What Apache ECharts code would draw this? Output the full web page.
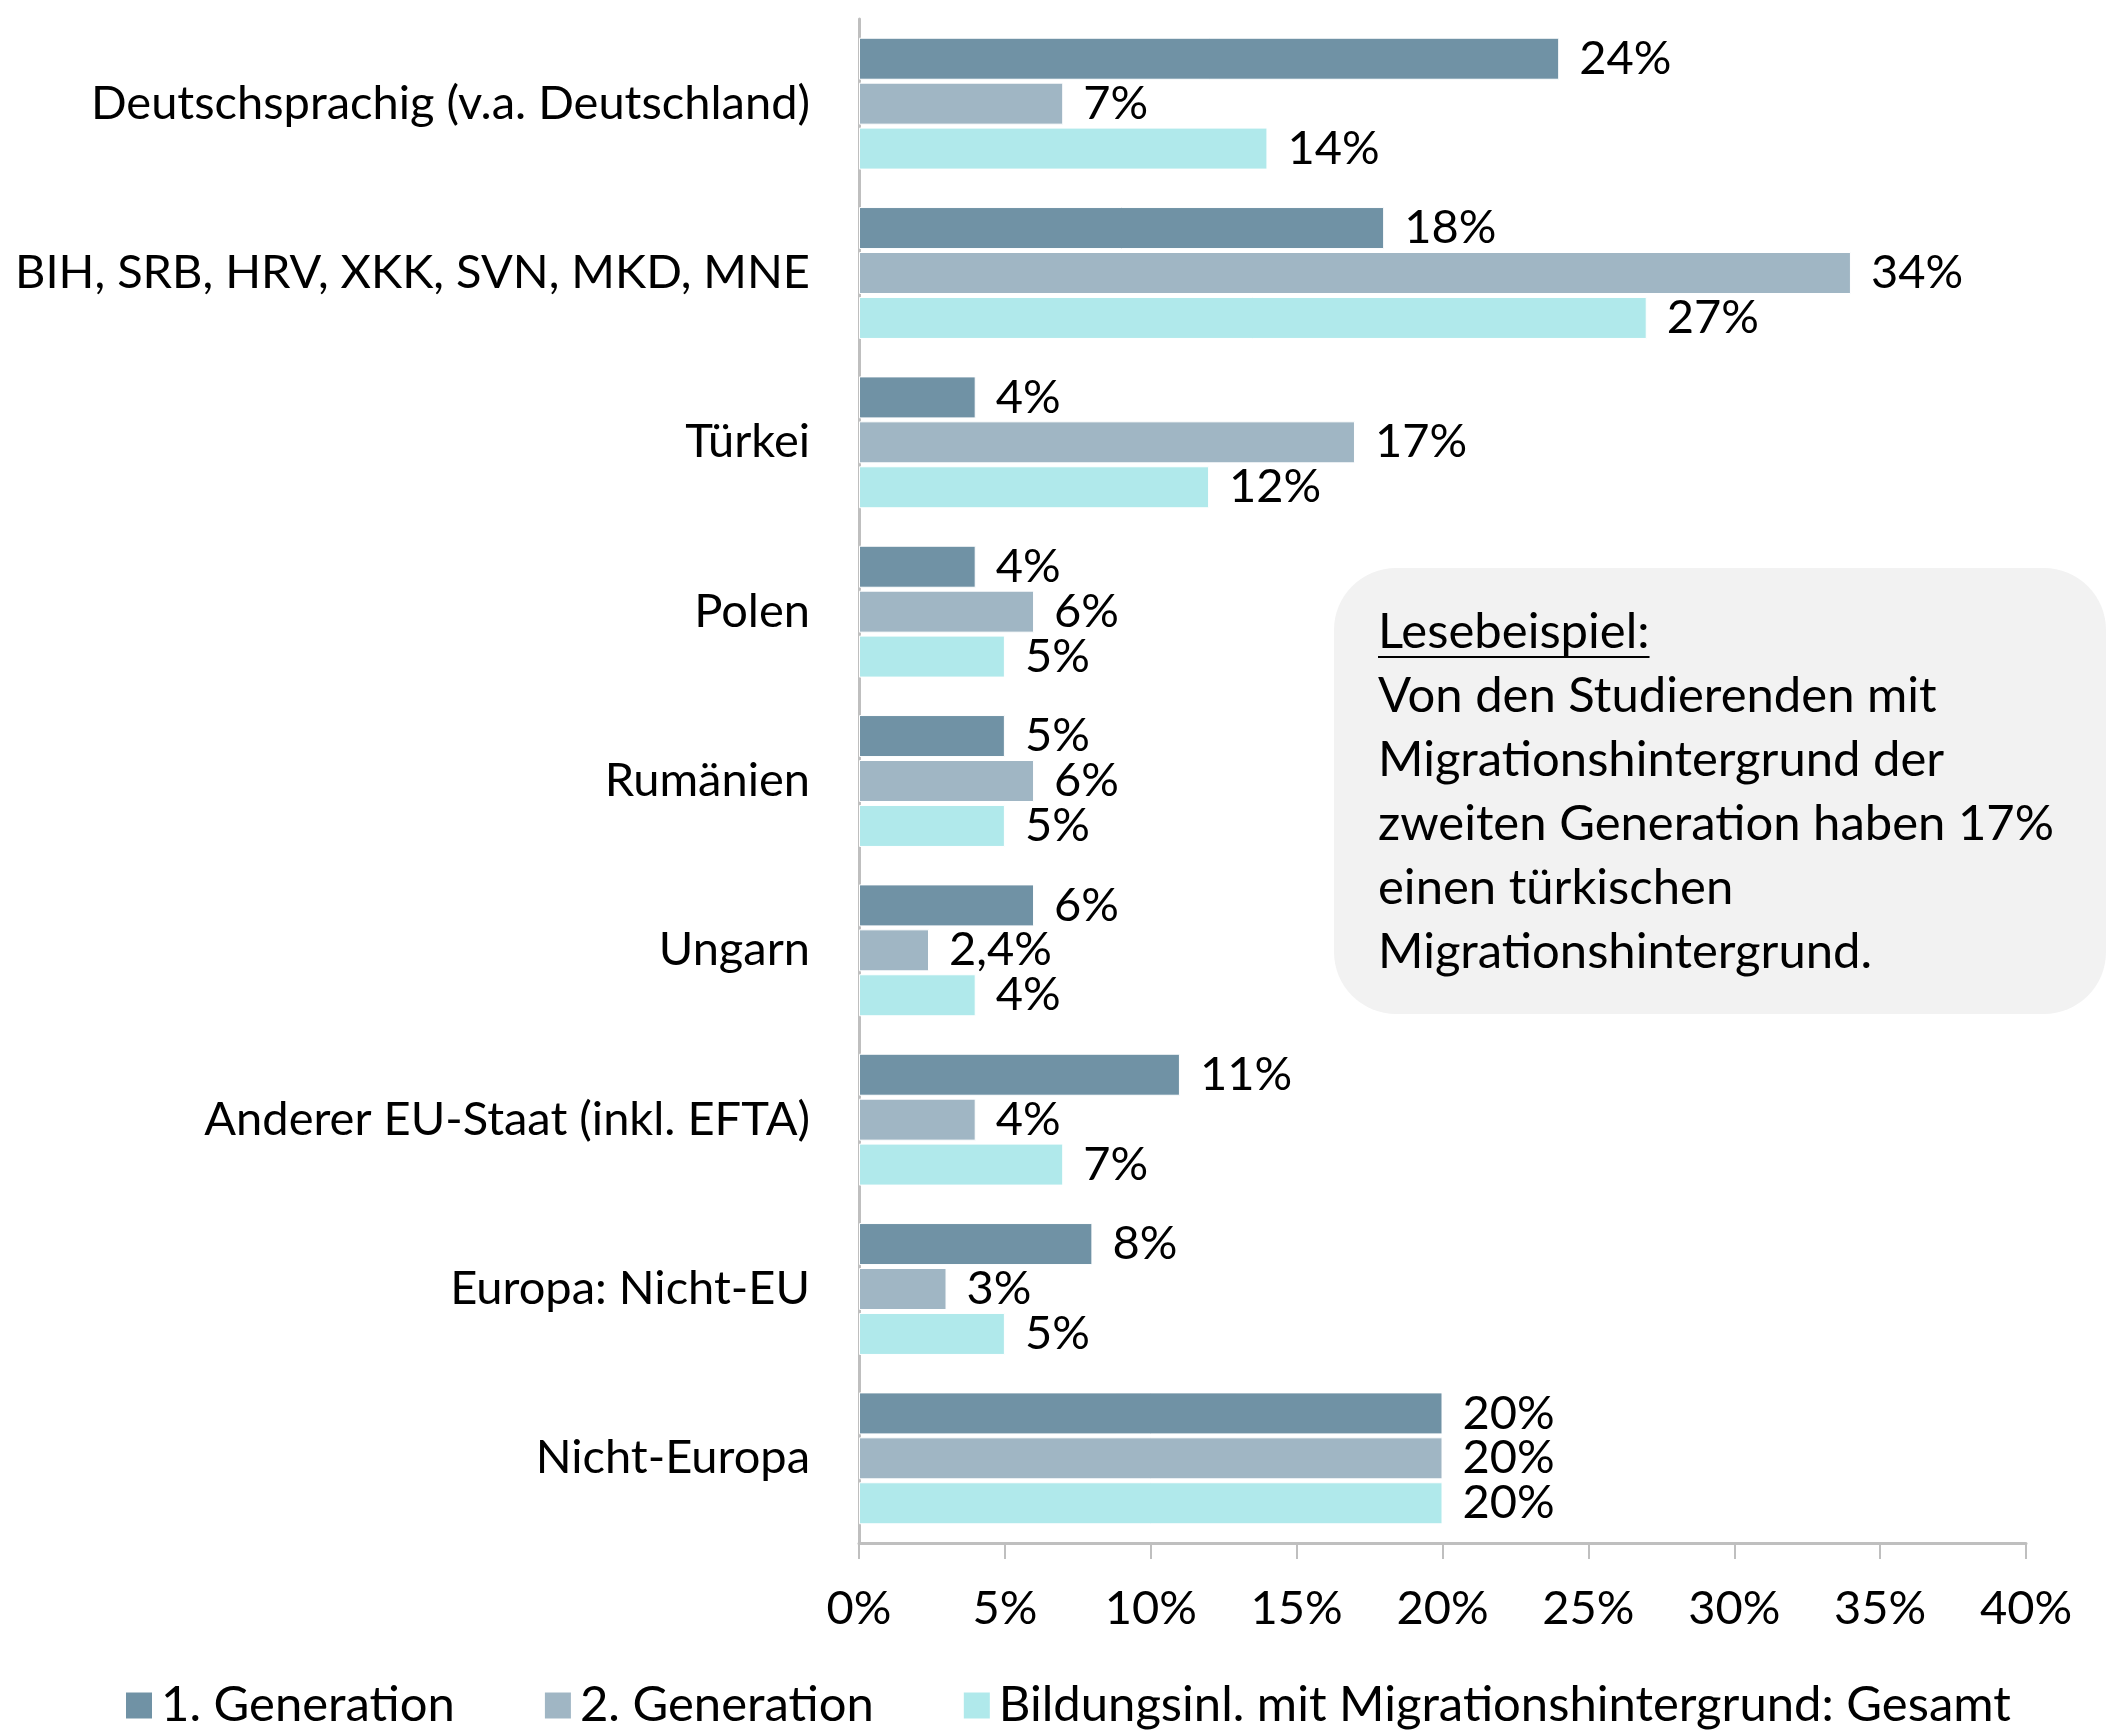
<!DOCTYPE html>
<html>
<head>
<meta charset="utf-8">
<script src="https://cdn.jsdelivr.net/npm/echarts@6/dist/echarts.min.js"></script>
<style>
  html, body { margin: 0; padding: 0; background: #fff; }
  #chart { width: 2107px; height: 1730px; }
</style>
</head>
<body>
<div id="chart"></div>
<script>
// Kategorien (von oben nach unten)
var categories = [
  'Deutschsprachig (v.a. Deutschland)',
  'BIH, SRB, HRV, XKK, SVN, MKD, MNE',
  'Türkei',
  'Polen',
  'Rumänien',
  'Ungarn',
  'Anderer EU-Staat (inkl. EFTA)',
  'Europa: Nicht-EU',
  'Nicht-Europa'
];
var seriesNames = ['1. Generation', '2. Generation', 'Bildungsinl. mit Migrationshintergrund: Gesamt'];
var gen1   = [24, 18, 4, 4, 5, 6, 11, 8, 20];
var gen2   = [7, 34, 17, 6, 6, 2.4, 4, 3, 20];
var gesamt = [14, 27, 12, 5, 5, 4, 7, 5, 20];
var xTicks = [0, 5, 10, 15, 20, 25, 30, 35, 40];
var noteTitle = 'Lesebeispiel:';
var noteLines = [
  'Von den Studierenden mit',
  'Migrationshintergrund der',
  'zweiten Generation haben 17%',
  'einen türkischen',
  'Migrationshintergrund.'
];

var colors = ['#7092a5', '#a0b6c4', '#b0e9eb'];
var fontFamily = 'Lato';

// Schriftgrößen an die Textbreiten des Originals anpassen
var ctx = document.createElement('canvas').getContext('2d');
function fit(texts, target) {
  ctx.font = '100px ' + fontFamily;
  var w = 0;
  for (var i = 0; i < texts.length; i++) w += ctx.measureText(texts[i]).width;
  return Math.round(100 * target / w);
}
var fs = fit([categories[0], categories[1]], 746 + 771);
var legendFs = fit([seriesNames[0], seriesNames[2]], 287 + 1012);
var noteFs = fit([noteLines[2]], 676);
ctx.font = noteFs + 'px ' + fontFamily;
var titleWidth = ctx.measureText(noteTitle).width;

var myChart = echarts.init(document.getElementById('chart'));

function pct(v) {
  return String(v).replace('.', ',') + '%';
}

function barSeries(name, data, color) {
  return {
    name: name,
    type: 'bar',
    barWidth: 42,
    barGap: '7%',
    data: data,
    itemStyle: { color: color, borderColor: '#ffffff', borderWidth: 1 },
    label: {
      show: true,
      position: 'right',
      distance: 20,
      fontFamily: fontFamily,
      fontSize: fs,
      color: '#000',
      formatter: function (p) { return pct(p.value); }
    }
  };
}

var option = {
  animation: false,
  backgroundColor: '#fff',
  textStyle: { fontFamily: fontFamily },
  grid: {
    left: 859, right: 81, top: 19, bottom: 187,
    containLabel: false,
    outerBoundsMode: 'none'
  },
  legend: {
    data: seriesNames,
    left: 121,
    top: 1676,
    itemWidth: 26,
    itemHeight: 26,
    itemGap: 90,
    icon: 'rect',
    itemStyle: { borderWidth: 0 },
    textStyle: { fontFamily: fontFamily, fontSize: legendFs, color: '#000', padding: [0, 0, 0, 4] }
  },
  xAxis: {
    type: 'value',
    min: xTicks[0],
    max: xTicks[xTicks.length - 1],
    interval: 5,
    splitLine: { show: false },
    axisLine: { show: true, lineStyle: { color: '#bfbfbf', width: 3 } },
    axisTick: { show: true, length: 16, lineStyle: { color: '#bfbfbf', width: 2 } },
    axisLabel: {
      margin: 42,
      fontFamily: fontFamily,
      fontSize: fs,
      color: '#000',
      formatter: function (v) { return v + '%'; }
    }
  },
  yAxis: {
    type: 'category',
    inverse: true,
    data: categories,
    axisLine: { show: true, lineStyle: { color: '#bfbfbf', width: 3 } },
    axisTick: { show: false },
    axisLabel: {
      margin: 49,
      interval: 0,
      fontFamily: fontFamily,
      fontSize: fs,
      color: '#000'
    }
  },
  series: [
    barSeries(seriesNames[0], gen1, colors[0]),
    barSeries(seriesNames[1], gen2, colors[1]),
    barSeries(seriesNames[2], gesamt, colors[2])
  ],
  graphic: [
    {
      type: 'rect',
      shape: { x: 1334, y: 568, width: 772, height: 446, r: 62 },
      style: { fill: '#f2f2f2' },
      z: 0
    },
    {
      type: 'text',
      x: 1378,
      y: 600,
      style: {
        text: noteTitle + '\n' + noteLines.join('\n'),
        fontFamily: fontFamily,
        fontSize: noteFs,
        lineHeight: 64,
        fill: '#000',
        verticalAlign: 'top'
      },
      z: 1
    },
    {
      type: 'line',
      shape: { x1: 1378, y1: 657, x2: 1378 + titleWidth, y2: 657 },
      style: { stroke: '#000', lineWidth: 2 },
      z: 1
    }
  ]
};

myChart.setOption(option);
</script>
</body>
</html>
